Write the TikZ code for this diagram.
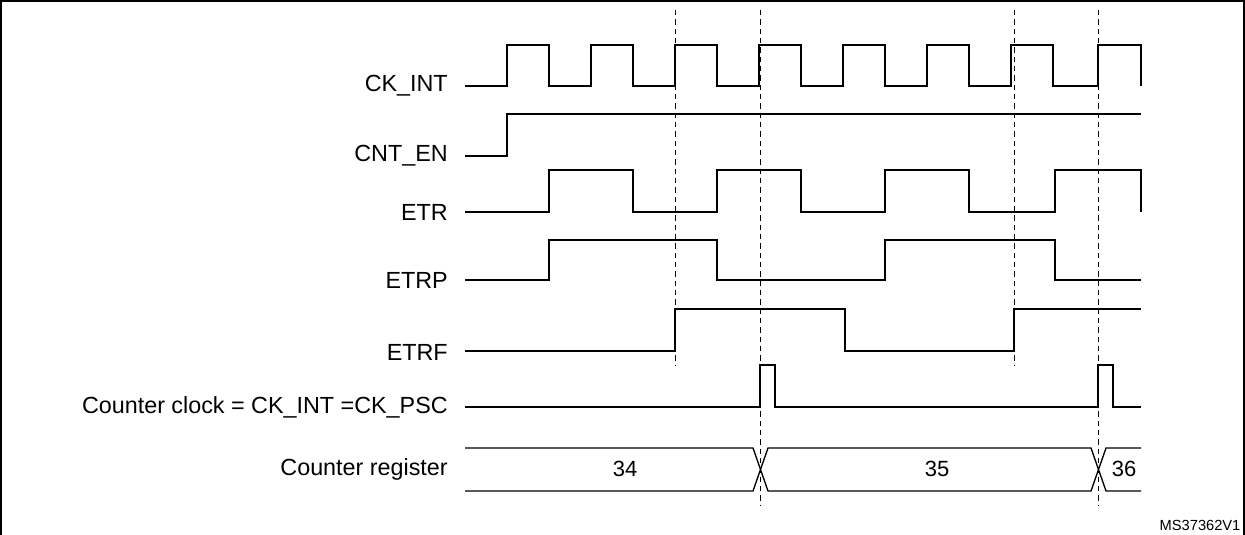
\documentclass[tikz,border=0pt]{standalone}
\usepackage{fontspec}
\setmainfont{Liberation Sans}
\begin{document}
\begin{tikzpicture}[x=0.75pt,y=-0.75pt,
 sig/.style={line width=1pt},
 dsh/.style={line width=0.6pt,dash pattern=on 4pt off 3pt},
 lab/.style={anchor=east,font=\fontsize{17.5}{20}\selectfont,inner sep=0pt},
 val/.style={font=\fontsize{16.5}{19}\selectfont,inner sep=0pt}]
\useasboundingbox (0,0) rectangle (1245,535);
\draw[line width=0.8pt] (1,540) -- (1,1) -- (1244,1) -- (1244,540);
% labels
\node[lab] (l1) at (448,86) {CK\_INT};
\node[lab] (l2) at (448,156) {CNT\_EN};
\node[lab] (l3) at (448,212) {ETR};
\node[lab] (l4) at (448,280) {ETRP};
\node[lab] (l5) at (448,352) {ETRF};
\node[lab] (l6) at (448,407) {Counter clock = CK\_INT =CK\_PSC};
\node[lab] (l7) at (448,469) {Counter register};
% dashed
\draw[dsh] (675,10) -- (675,365);
\draw[dsh] (1014,10) -- (1014,365);
\draw[dsh] (760,10) -- (760,505);
\draw[dsh] (1098,10) -- (1098,505);
% CK_INT
\draw[sig] (465,86) -- (507,86)
 \foreach \i in {0,...,6}{ -- ({507+84*\i},86) -- ({507+84*\i},45) -- ({549+84*\i},45) -- ({549+84*\i},86) -- ({591+84*\i},86)}
 -- (1098,86) -- (1098,45) -- (1141,45) -- (1141,86);
% CNT_EN
\draw[sig] (465,156) -- (507,156) -- (507,114) -- (1141,114);
% ETR
\draw[sig] (465,212) -- (549,212) -- (549,170) -- (633,170) -- (633,212) -- (717,212) -- (717,170) -- (801,170) -- (801,212) -- (885,212) -- (885,170) -- (969,170) -- (969,212) -- (1055,212) -- (1055,170) -- (1141,170) -- (1141,212);
% ETRP
\draw[sig] (465,280) -- (549,280) -- (549,240) -- (717,240) -- (717,280) -- (885,280) -- (885,240) -- (1055,240) -- (1055,280) -- (1141,280);
% ETRF
\draw[sig] (465,351) -- (675,351) -- (675,309) -- (845,309) -- (845,351) -- (1014,351) -- (1014,309) -- (1141,309);
% Counter clock
\draw[sig] (465,407) -- (760,407) -- (760,365) -- (775,365) -- (775,407) -- (1098,407) -- (1098,365) -- (1113,365) -- (1113,407) -- (1141,407);
% Counter register
\draw[sig] (465,448) -- (753,448) -- (768,491) -- (1091,491) -- (1106,448) -- (1141,448);
\draw[sig] (465,491) -- (753,491) -- (768,448) -- (1091,448) -- (1106,491) -- (1141,491);
\node[val] (v1) at (625,469) {34};
\node[val] (v2) at (937,469) {35};
\node[val] (v3) at (1124,469) {36};
\node[anchor=south east,font=\fontsize{11}{12}\selectfont,inner sep=1pt] (ms) at (1242,532) {MS37362V1};
\end{tikzpicture}
\end{document}
